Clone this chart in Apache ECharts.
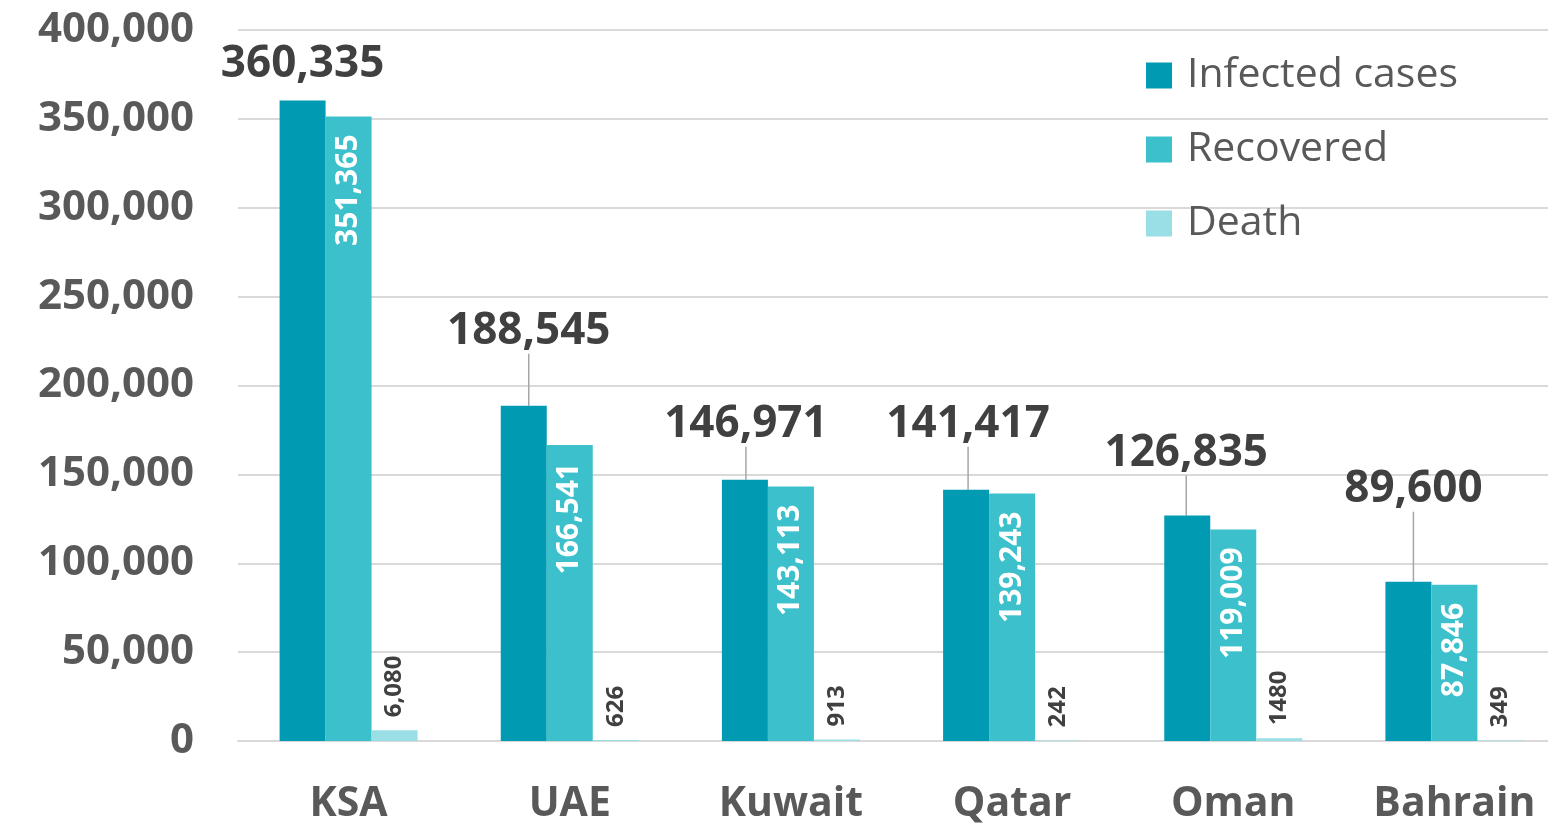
<!DOCTYPE html>
<html>
<head>
<meta charset="utf-8">
<script src="https://cdn.jsdelivr.net/npm/echarts@6/dist/echarts.min.js"></script>
<style>html,body{margin:0;padding:0;background:#fff}#c{width:1548px;height:826px}</style>
</head>
<body>
<div id="c"></div>
<script>
const categories = ['KSA', 'UAE', 'Kuwait', 'Qatar', 'Oman', 'Bahrain'];
const infected = [360335, 188545, 146971, 141417, 126835, 89600];
const recovered = [351365, 166541, 143113, 139243, 119009, 87846];
const death = [6080, 626, 913, 242, 1480, 349];
const deathLabels = ['6,080', '626', '913', '242', '1480', '349'];

// leader-line label displacements (dx, dy) for infected labels
const infLabelShift = [[0, 5], [5, -33], [1, -14], [2, -24], [-1, -21], [5, -51]];

const fmt = v => v.toLocaleString('en-US');
const FONT = '"Open Sans", "Noto Sans", sans-serif';

const chart = echarts.init(document.getElementById('c'), null, {renderer: 'canvas'});
chart.setOption({
  animation: false,
  textStyle: {fontFamily: FONT},
  grid: {left: 238, top: 30, width: 1327, bottom: 85, containLabel: false, outerBoundsMode: 'none'},
  legend: {
    orient: 'vertical',
    left: 1146,
    top: 55,
    padding: 0,
    itemWidth: 26,
    itemHeight: 26,
    itemGap: 33,
    icon: 'rect',
    textStyle: {fontSize: 41, color: '#595959', fontFamily: FONT, padding: [0, 0, 0, 10]},
    data: ['Infected cases', 'Recovered', 'Death']
  },
  xAxis: {
    type: 'category',
    data: categories,
    axisLine: {show: true, lineStyle: {color: '#D9D9D9', width: 2}},
    axisTick: {show: false},
    axisLabel: {fontSize: 41, fontWeight: 'bold', color: '#595959', margin: 43, fontFamily: FONT}
  },
  yAxis: {
    type: 'value',
    min: 0,
    max: 400000,
    interval: 50000,
    axisLine: {show: false},
    axisTick: {show: false},
    splitLine: {lineStyle: {color: '#D9D9D9', width: 2}},
    axisLabel: {fontSize: 42, fontWeight: 'bold', color: '#595959', margin: 44, fontFamily: FONT,
      formatter: v => fmt(v)}
  },
  series: [
    {
      name: 'Infected cases',
      type: 'bar',
      data: infected.map((v, i) => i === 0 ? {value: v, labelLine: {show: false}} : v),
      barWidth: 46,
      barGap: '0%',
      itemStyle: {color: '#009BB2'},
      label: {
        show: true, position: 'top', distance: 19,
        fontSize: 44, fontWeight: 'bold', color: '#404040', fontFamily: FONT,
        formatter: p => fmt(p.value)
      },
      labelLine: {show: true, lineStyle: {color: '#A6A6A6', width: 1.5}},
      labelLayout: p => ({dx: infLabelShift[p.dataIndex][0], dy: infLabelShift[p.dataIndex][1]})
    },
    {
      name: 'Recovered',
      type: 'bar',
      data: recovered,
      barWidth: 46,
      barGap: '0%',
      itemStyle: {color: '#3CC1CC'},
      label: {
        show: true, position: 'insideTop', distance: 18, rotate: 90,
        align: 'right', verticalAlign: 'middle',
        fontSize: 30, fontWeight: 'bold', color: '#FFFFFF', fontFamily: FONT,
        formatter: p => fmt(p.value)
      }
    },
    {
      name: 'Death',
      type: 'bar',
      data: death,
      barWidth: 46,
      barGap: '0%',
      itemStyle: {color: '#9BDFE6'},
      label: {
        show: true, position: 'top', distance: 13, rotate: 90,
        align: 'left', verticalAlign: 'middle',
        fontSize: 24, fontWeight: 'bold', color: '#404040', fontFamily: FONT,
        formatter: p => deathLabels[p.dataIndex]
      }
    }
  ]
});
</script>
</body>
</html>
